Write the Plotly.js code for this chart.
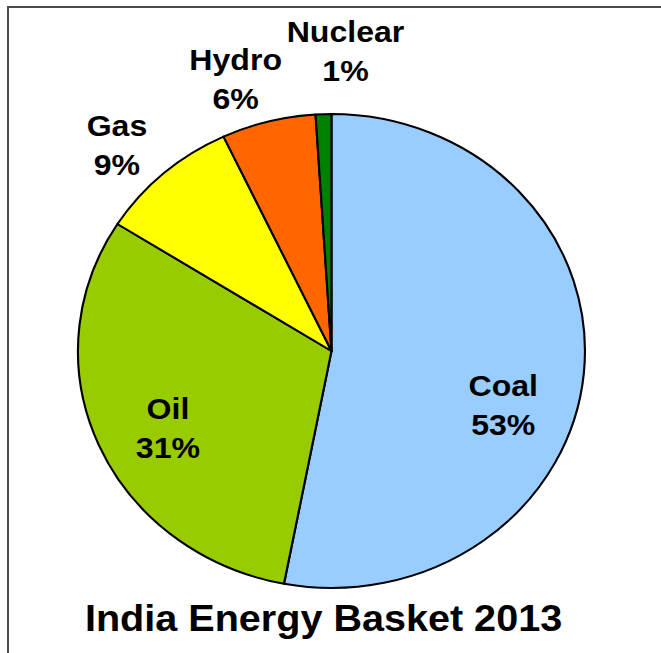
<!DOCTYPE html>
<html>
<head>
<meta charset="utf-8">
<script src="https://cdn.plot.ly/plotly-3.0.1.min.js"></script>
<style>
  html, body { margin: 0; padding: 0; background: #fff; overflow: hidden; width: 661px; height: 653px; }
  #frame { position: absolute; left: 7px; top: 6px; width: 700px; height: 700px;
           border-left: 2px solid #4a4a4a; border-top: 2px solid #4a4a4a; box-sizing: border-box; }
  #chart { position: absolute; left: 0; top: 0; width: 618px; height: 653px;
           transform: scaleX(1.0696); transform-origin: 0 0; }
</style>
</head>
<body>
<div id="frame"></div>
<div id="chart"></div>
<script>
const categories = ["Coal", "Oil", "Gas", "Hydro", "Nuclear"];
const shares = [53, 31, 9, 6, 1];
const sliceColors = ["#99CCFF", "#99CC00", "#FFFF00", "#FF6600", "#008000"];
const chartTitle = "India Energy Basket 2013";

// layout / style (not data)
const W = 618, H = 653;           // pre-stretch drawing size
const cx = 309.9, cy = 351, r = 237;
const labelRadiusFrac = [0.70, 0.70, 1.23, 1.23, 1.23];
const labelNudge = [[-5, 38], [-1, 11], [-8, 13], [-17, 10], [22, -9]];
const FONT = "Liberation Sans, Arial, sans-serif";

const total = shares.reduce((a, b) => a + b, 0);
let before = 0;
const annotations = categories.map((name, i) => {
  const mid = (before + shares[i] / 2) / total * 2 * Math.PI;
  before += shares[i];
  const rho = labelRadiusFrac[i] * r;
  const px = cx + rho * Math.sin(mid) + labelNudge[i][0];
  const py = cy - rho * Math.cos(mid) + labelNudge[i][1];
  return {
    text: name + "<br>" + Math.round(shares[i] / total * 100) + "%",
    x: px / W, y: 1 - py / H, xref: "paper", yref: "paper",
    xanchor: "center", yanchor: "middle", showarrow: false,
    font: { family: FONT, size: 30, color: "#000", weight: "bold" }
  };
});

const trace = {
  type: "pie",
  labels: categories,
  values: shares,
  sort: false,
  direction: "clockwise",
  rotation: 0,
  marker: { colors: sliceColors, line: { color: "#000", width: 2 } },
  textinfo: "none",
  hoverinfo: "label+percent",
  domain: {
    x: [(cx - r) / W, (cx + r) / W],
    y: [1 - (cy + r) / H, 1 - (cy - r) / H]
  }
};

const layout = {
  width: W,
  height: H,
  margin: { l: 0, r: 0, t: 0, b: 0 },
  paper_bgcolor: "rgba(0,0,0,0)",
  plot_bgcolor: "rgba(0,0,0,0)",
  showlegend: false,
  annotations: annotations,
  title: {
    text: chartTitle,
    font: { family: FONT, size: 37, color: "#000", weight: "bold" },
    x: 302.5 / W,
    xanchor: "center",
    y: 1 - 618 / H,
    yanchor: "middle",
    xref: "container",
    yref: "container"
  }
};

Plotly.newPlot("chart", [trace], layout, { staticPlot: true, displayModeBar: false });
</script>
</body>
</html>
